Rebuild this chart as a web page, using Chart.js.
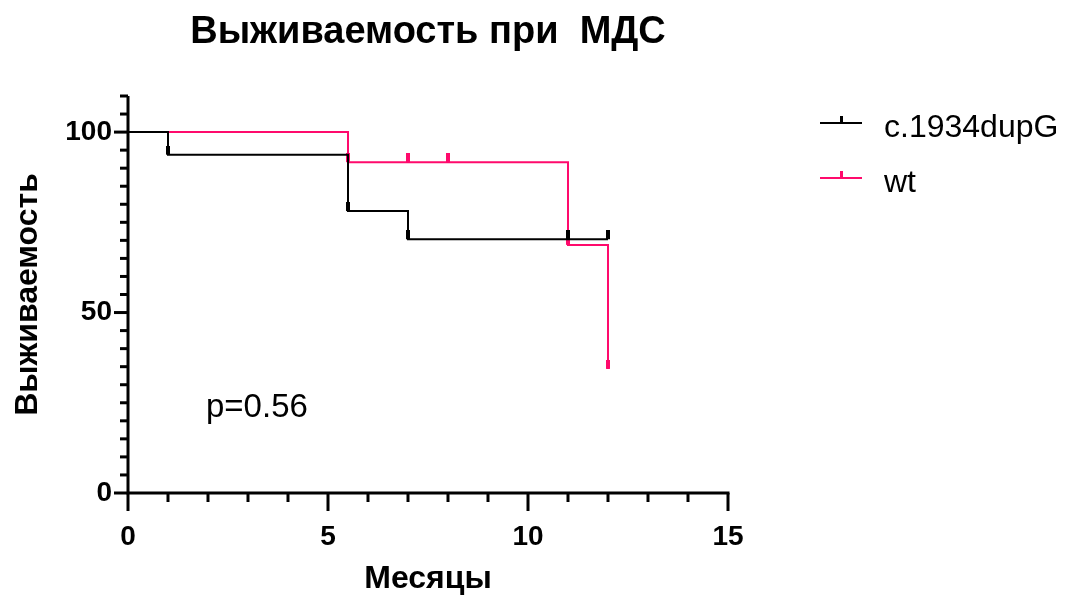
<!DOCTYPE html>
<html lang="ru">
<head>
    <meta charset="UTF-8">
    <title>Выживаемость при МДС</title>
    <script src="https://cdn.jsdelivr.net/npm/chart.js"></script>
    <style>
        html, body { margin: 0; padding: 0; background: #fff; }
        #wrap { width: 1067px; height: 595px; }
    </style>
</head>
<body>
    <div id="wrap"><canvas id="kmChart"></canvas></div>
    <script>
        // Kaplan-Meier steps (months, % survival)
        const mutTimes = [0, 1, 5.5, 7, 12];
        const mutSurv = [100, 93.75, 78.13, 70.31, 70.31];
        const wtTimes = [0, 5.5, 11, 12];
        const wtSurv = [100, 91.67, 68.75, 34.38];

        // censored observations
        const mutCensor = [1, 5.5, 7, 11, 12];
        const wtCensor = [5.5, 7, 8, 11, 12];

        const xTickLabels = [0, 5, 10, 15];
        const yTickLabels = [0, 50, 100];

        const BLACK = '#000000';
        const PINK = '#ff0a6c';
        const FONT = 'Arial, "Liberation Sans", sans-serif';

        function survAt(times, surv, t) {
            let v = surv[0];
            for (let i = 0; i < times.length; i++) {
                if (times[i] <= t) v = surv[i];
            }
            return v;
        }

        // censor mark: small bar that sits on top of the curve
        function censorMark(color) {
            const c = document.createElement('canvas');
            c.width = 4;
            c.height = 18;
            const g = c.getContext('2d');
            g.fillStyle = color;
            g.fillRect(0, 0, 4, 9);
            return c;
        }

        const toPoints = (xs, ys) => xs.map((x, i) => ({ x: x, y: ys[i] }));
        const censorPoints = (ct, times, surv) => ct.map(t => ({ x: t, y: survAt(times, surv, t) }));

        // axes lines and ticks (minor/major with different lengths)
        const axesPlugin = {
            id: 'axesPlugin',
            afterDatasetsDraw(chart) {
                const ctx = chart.ctx;
                const xs = chart.scales.x;
                const ys = chart.scales.y;
                const x0 = xs.getPixelForValue(0);
                const y0 = ys.getPixelForValue(0);
                ctx.save();
                ctx.strokeStyle = '#000';
                ctx.lineWidth = 3;
                ctx.lineCap = 'butt';
                ctx.beginPath();
                ctx.moveTo(x0, ys.getPixelForValue(110));
                ctx.lineTo(x0, y0);
                ctx.lineTo(xs.getPixelForValue(15) + 1.5, y0);
                ctx.stroke();
                for (let v = 0; v <= 15; v++) {
                    const px = xs.getPixelForValue(v);
                    const len = v % 5 === 0 ? 18 : 9;
                    ctx.beginPath();
                    ctx.moveTo(px, y0);
                    ctx.lineTo(px, y0 + len);
                    ctx.stroke();
                }
                for (let v = 0; v <= 110; v += 5) {
                    const py = ys.getPixelForValue(v);
                    const len = v % 50 === 0 ? 14 : 8;
                    ctx.beginPath();
                    ctx.moveTo(x0, py);
                    ctx.lineTo(x0 - len, py);
                    ctx.stroke();
                }
                ctx.restore();
            },
            afterDraw(chart) {
                const ctx = chart.ctx;
                ctx.save();
                ctx.textBaseline = 'middle';
                ctx.font = '33px ' + FONT;
                ctx.fillStyle = '#000';
                ctx.fillText('p=0.56', 206, 408);
                ctx.font = '32px ' + FONT;
                const items = [
                    { label: 'c.1934dupG', color: BLACK, y: 123 },
                    { label: 'wt', color: PINK, y: 178 }
                ];
                items.forEach(it => {
                    ctx.strokeStyle = it.color;
                    ctx.lineWidth = 2;
                    ctx.beginPath();
                    ctx.moveTo(820, it.y);
                    ctx.lineTo(862, it.y);
                    ctx.stroke();
                    ctx.fillStyle = it.color;
                    ctx.fillRect(840, it.y - 7, 3, 7);
                    ctx.fillStyle = '#000';
                    ctx.fillText(it.label, 884, it.y + 5);
                });
                ctx.restore();
            }
        };

        new Chart(document.getElementById('kmChart'), {
            type: 'line',
            data: {
                datasets: [
                    {
                        label: 'c.1934dupG censored',
                        type: 'scatter',
                        data: censorPoints(mutCensor, mutTimes, mutSurv),
                        pointStyle: censorMark(BLACK),
                        pointRadius: 5,
                        order: 0
                    },
                    {
                        label: 'c.1934dupG',
                        data: toPoints(mutTimes, mutSurv),
                        stepped: 'before',
                        borderColor: BLACK,
                        borderWidth: 2,
                        pointRadius: 0,
                        fill: false,
                        order: 1
                    },
                    {
                        label: 'wt censored',
                        type: 'scatter',
                        data: censorPoints(wtCensor, wtTimes, wtSurv),
                        pointStyle: censorMark(PINK),
                        pointRadius: 5,
                        order: 2
                    },
                    {
                        label: 'wt',
                        data: toPoints(wtTimes, wtSurv),
                        stepped: 'before',
                        borderColor: PINK,
                        borderWidth: 2,
                        pointRadius: 0,
                        fill: false,
                        order: 3
                    }
                ]
            },
            options: {
                responsive: true,
                maintainAspectRatio: false,
                animation: false,
                layout: { padding: { top: 0, right: 339, bottom: 0, left: 0 } },
                plugins: {
                    legend: { display: false },
                    tooltip: { enabled: false },
                    title: {
                        display: true,
                        fullSize: false,
                        text: 'Выживаемость при  МДС',
                        color: '#000',
                        font: { family: FONT, size: 38, weight: 'bold', lineHeight: 1.2 },
                        padding: { top: 10, bottom: 40.4 }
                    }
                },
                scales: {
                    x: {
                        type: 'linear',
                        min: 0,
                        max: 15,
                        afterFit(scale) { scale.height = 102; },
                        afterBuildTicks(scale) { scale.ticks = xTickLabels.map(v => ({ value: v })); },
                        grid: { display: false, drawTicks: false },
                        border: { display: false },
                        ticks: {
                            color: '#000',
                            padding: 27,
                            maxRotation: 0,
                            font: { family: FONT, size: 28, weight: 'bold' }
                        },
                        title: {
                            display: true,
                            text: 'Месяцы',
                            color: '#000',
                            padding: { top: 0, bottom: 0 },
                            font: { family: FONT, size: 32, weight: 'bold', lineHeight: 1.0 }
                        }
                    },
                    y: {
                        type: 'linear',
                        min: 0,
                        max: 110,
                        afterFit(scale) { scale.width = 128; },
                        afterBuildTicks(scale) { scale.ticks = yTickLabels.map(v => ({ value: v })); },
                        grid: { display: false, drawTicks: false },
                        border: { display: false },
                        ticks: {
                            color: '#000',
                            padding: 16,
                            font: { family: FONT, size: 28, weight: 'bold' }
                        },
                        title: {
                            display: true,
                            text: 'Выживаемость',
                            color: '#000',
                            padding: { top: 9, bottom: 0 },
                            font: { family: FONT, size: 32, weight: 'bold', lineHeight: 1.2 }
                        }
                    }
                }
            },
            plugins: [axesPlugin]
        });
    </script>
</body>
</html>
